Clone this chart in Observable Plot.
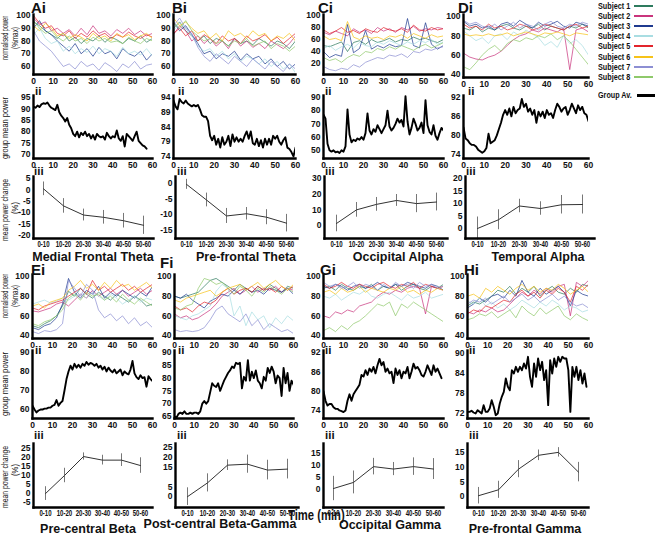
<!DOCTYPE html>
<html><head><meta charset="utf-8">
<script src="https://cdn.jsdelivr.net/npm/d3@7"></script>
<script src="https://cdn.jsdelivr.net/npm/@observablehq/plot@0.6"></script>
<style>
body{margin:0;background:#fff;}
#fig{position:relative;width:656px;height:535px;overflow:hidden;font-family:"Liberation Sans",Arial,Helvetica,sans-serif;color:#111;}
.t{position:absolute;white-space:nowrap;line-height:1;}
</style></head><body><div id="fig"></div>
<script>
// ---------------- data ----------------
const subjects = ["Subject 1","Subject 2","Subject 3","Subject 4","Subject 5","Subject 6","Subject 7","Subject 8"];
const subjectColors = ["#2e7b5e","#c9357d","#1f3a8f","#a9dde2","#e2252d","#f6c319","#8d8fd3","#8fc96b"];
const timeTicks = [0,10,20,30,40,50,60];
const bins = ["0-10","10-20","20-30","30-40","40-50","50-60"];
const subjStep = 3;   // minutes between samples of single-subject traces
const meanStep = 1;   // minutes between samples of group mean traces
const regions = ["Medial Frontal Theta","Pre-frontal Theta","Occipital Alpha","Temporal Alpha",
                 "Pre-central Beta","Post-central Beta-Gamma","Occipital Gamma","Pre-frontal Gamma"];

// single-subject normalised power (%max), one row per subject
const subjA = [
 [95,92,88,85,82,86,80,83,78,82,80,84,79,83,81,78,82,80,84,79,82],
 [98,93,95,88,90,86,89,84,90,85,92,86,88,84,89,86,90,85,88,84,86],
 [90,96,88,85,80,76,72,78,70,74,68,75,70,72,66,74,70,68,72,65,70],
 [85,90,82,78,80,72,76,70,74,71,76,70,74,72,68,75,70,72,69,74,68],
 [100,94,90,92,86,84,88,82,86,83,88,84,86,82,85,83,87,84,82,85,83],
 [92,88,94,90,84,86,82,85,83,80,86,82,84,80,86,83,85,81,84,86,82],
 [88,80,76,72,66,60,62,58,64,60,62,57,63,60,56,62,59,64,58,61,62],
 [96,90,86,88,83,80,84,80,82,78,83,80,82,79,80,78,83,80,78,82,80]];
const subjB = [
 [90,95,88,84,80,84,78,82,80,76,82,78,80,77,82,79,76,80,78,74,80],
 [85,92,88,80,84,78,82,76,80,74,82,76,80,75,78,74,80,77,74,78,84],
 [95,88,92,85,78,70,72,66,70,68,72,65,70,66,68,62,66,60,64,58,62],
 [88,94,90,84,76,72,74,68,72,66,70,64,68,66,62,66,60,64,58,62,55],
 [86,90,84,88,80,85,82,78,84,80,82,78,84,80,82,85,80,83,78,82,86],
 [98,92,95,90,86,88,82,86,80,88,84,86,82,88,84,86,80,84,82,86,80],
 [92,98,90,86,75,68,64,70,66,62,68,64,60,66,62,58,64,60,56,62,58],
 [94,90,96,88,84,80,82,78,80,76,80,78,82,76,78,80,74,78,76,72,76]];
const subjC = [
 [50,48,52,56,40,55,58,52,60,55,58,62,56,60,58,64,60,62,58,55,60],
 [72,68,74,70,66,78,72,76,70,80,74,78,72,80,76,82,74,78,76,80,78],
 [40,30,35,32,85,38,45,75,44,50,46,52,48,50,95,50,46,88,52,44,50],
 [45,50,42,48,52,46,55,50,48,56,52,58,54,50,56,52,58,55,60,52,56],
 [76,70,74,80,72,75,70,78,74,72,80,76,74,78,72,84,76,74,80,76,78],
 [66,60,62,58,90,64,60,66,62,64,60,66,64,68,62,70,66,62,68,64,66],
 [15,10,8,12,10,18,14,22,26,30,28,34,32,36,30,40,38,44,42,46,48],
 [30,25,28,22,30,35,32,40,38,45,42,48,44,50,46,42,48,52,46,50,55]];
const subjD = [
 [88,86,90,84,88,86,90,92,88,86,90,88,92,86,90,88,86,90,88,92,88],
 [62,58,56,55,58,60,64,70,76,80,82,86,84,88,86,84,88,45,86,88,84],
 [95,90,92,88,90,86,92,94,90,96,92,88,94,90,92,95,90,88,94,92,90],
 [85,80,75,78,72,80,82,76,84,80,86,82,78,70,74,68,80,72,76,70,60],
 [92,88,90,86,92,88,90,86,88,92,90,86,88,92,90,88,86,90,92,88,90],
 [82,80,81,80,82,80,81,83,80,82,84,82,80,83,82,84,82,80,83,82,81],
 [96,92,94,90,88,92,86,90,94,88,92,90,86,92,95,90,88,92,90,94,92],
 [48,45,52,60,66,70,64,72,76,74,78,76,80,78,82,76,80,74,66,58,50]];
const subjE = [
 [50,48,52,55,60,70,85,80,88,82,78,84,80,76,82,78,74,80,76,70,72],
 [65,64,66,68,72,74,70,76,82,78,86,80,84,88,82,86,80,84,88,82,86],
 [48,46,50,52,58,72,98,84,78,86,82,90,78,84,80,86,82,78,84,80,90],
 [72,74,76,73,75,78,76,80,82,78,84,80,76,82,78,72,76,80,74,78,76],
 [68,66,70,72,74,76,80,84,88,82,96,86,90,84,88,92,86,90,84,88,92],
 [70,72,68,74,76,78,86,90,96,88,92,86,94,88,96,90,92,86,90,94,88],
 [44,42,45,44,46,52,96,88,80,92,86,66,58,62,55,60,52,58,50,54,48],
 [52,50,54,56,60,66,78,82,76,84,80,82,76,80,74,82,76,72,78,74,70]];
const subjF = [
 [80,78,80,82,84,90,96,98,94,90,86,92,88,84,90,86,92,88,84,90,88],
 [62,58,60,56,58,62,66,72,80,84,88,82,86,90,84,88,86,90,84,88,86],
 [80,78,82,76,72,68,75,78,82,80,86,82,88,84,86,82,88,86,84,88,82],
 [60,58,56,60,62,66,70,85,92,88,60,70,50,64,56,60,48,58,52,60,55],
 [70,66,68,64,70,74,72,76,84,88,82,86,88,84,90,86,88,84,90,86,90],
 [76,74,78,80,82,84,86,80,84,88,90,92,86,90,94,88,92,96,90,86,92],
 [46,44,45,44,45,48,56,66,70,62,58,54,62,50,56,46,52,48,44,46,42],
 [68,66,70,72,88,98,96,92,94,88,82,90,86,80,88,84,90,86,82,88,84]];
const subjG = [
 [88,90,86,92,88,86,90,88,92,86,90,88,92,86,90,92,88,86,90,88,92],
 [60,58,64,62,66,64,70,72,74,80,84,82,86,84,88,90,88,62,90,88,86],
 [90,88,92,90,86,90,92,88,90,94,90,88,92,90,94,92,90,88,92,90,86],
 [80,78,82,76,80,84,82,86,80,78,82,84,80,76,82,78,80,84,78,80,82],
 [92,88,90,94,90,88,92,90,88,92,94,90,88,92,90,94,88,92,90,88,90],
 [84,86,82,88,84,86,90,84,88,86,84,88,86,90,84,86,82,86,84,88,86],
 [94,90,92,88,90,94,88,92,90,86,92,88,94,90,92,88,94,90,92,88,90],
 [45,48,44,50,46,52,55,60,66,72,70,74,60,72,68,74,70,66,62,58,54]];
const subjH = [
 [70,74,72,76,80,86,84,90,82,88,84,90,80,86,90,84,82,88,84,92,90],
 [64,62,66,64,68,64,66,72,78,84,80,86,82,88,84,90,92,60,94,90,96],
 [68,72,78,74,80,82,78,86,80,96,84,80,88,82,86,90,84,70,86,82,80],
 [75,72,78,70,74,68,72,66,70,76,72,68,74,70,76,72,66,70,68,64,66],
 [62,66,64,70,68,72,76,74,82,86,80,84,78,86,82,88,84,74,90,86,92],
 [80,82,78,88,84,90,86,82,88,92,86,90,84,88,86,92,88,82,86,90,84],
 [72,76,74,78,72,76,80,74,78,82,76,80,74,78,82,76,80,74,70,72,68],
 [56,58,62,60,64,58,62,66,58,70,64,60,68,62,66,70,60,56,62,58,55]];

// group mean power, one value per minute
const meanA = [91,90.5,91.5,90.8,92,92.5,92.2,92.8,91.5,90.5,90,89.5,91.8,88.5,87,86,84.5,86,83,81.5,79,78,80,77.5,79.5,78.5,80,78,79,77,78.5,76.5,79,78,77.5,78,76.5,79.5,78,77,78,77.5,80.5,77,76,78,73.5,79,78,77,76,78,80,76,75,74,73.5,72.5];
const meanB = [93,91,90,93.5,92.5,92,93,92,91.5,91,91.5,91,91.5,90,88,87.5,87.5,86,81,79.5,81,78,80,77,80.5,78,79,81,77.5,81.5,79,80.5,79,80,79,81,82.5,80,82.5,78.5,78,80,77.5,79.5,77,80,78,80,78,81,80,81,79,78,79.5,80.5,77,76.5,75.5,74,77,78];
const meanC = [77,74,55,50,49,50,48.5,49,48,50,49,53,81,62,56,58,57,59,58,60,58,63,78,65,62,66,64,69,66,63,66,69,80,68,65,67,70,74,71,73,68,91,72,62,67,74,70,65,67,71,63,88,69,64,62,69,61,58,63,67,65];
const meanD = [82.5,79,78.5,77.5,77,77,76.5,75.5,75,74.5,75,76,80.5,77.5,78,78.5,80,82,84,86.5,88,86.5,88.5,86,89,87,88,88.5,91.5,89,90,87.5,88.5,86.5,88,84,87.5,86,87.5,85.5,88,86.5,87,85.5,88,90,89,87.5,88.5,89,86.5,88,90,88.5,87,89.5,88,89,87,86.5,84.5];
const meanE = [62,60,58.5,59.5,60,60,60.5,60.5,61,61,62,62.5,65,62,63.5,64.5,70,76,80,83,81,84,82,83.5,82,84,83,85,83.5,84.5,84,83,84,82,83,81,82.5,80,82,80.5,79.5,81,79,80,81,78,80,79,78.5,81,85.5,79,77,76,78,76.5,77,72,77.5,76,75];
const meanF = [65,64.5,66,66.5,66,67,66,66,66.5,66,66.5,66.5,66,67,70,71,70,71,74.5,78,77,76.5,78,75,77,79,80.5,82,83,84.5,84,86,85.5,86,76,80.5,79,87,79,82.5,80,83,79,78,76,80.5,79,84,82,84.5,82.5,78,81,80,73,84,78,82,75,79,77.5,75];
const meanG = [80,77,75.5,76,76,75,74.5,74.5,74,73.8,73.5,74,77,79,77,79,80,81,82,85,84.5,86.5,85,87,86,87.5,85.5,88,90,88,89,86,87,85.5,86,82.5,87,85,86.5,84,86,85.5,87.5,84,86,88.5,87,87.5,86.5,85,84.5,86,88,86.5,85,88,86,87,85.5,84];
const meanH = [72.5,72.5,72.8,72.3,72,73,72.5,72,74.5,72.5,72.5,73.5,76,74,71.5,72,75,77,78.5,82.5,80,79,85,84,86,84.5,86,85,87,85.5,89,83,80,87,83,88.5,85,87.5,82,85,74.5,88,84,88.5,86,89,87.5,89,88.5,88.5,85,72.5,86,83,86,82,85,81,84,80];

// mean power change (%) per 10-min bin, and error bar half-widths
const changeA = [0.5,-7,-11,-12,-13.5,-15.5],  errA = [3,3.2,2.6,3,3.2,4];
const changeB = [-0.3,-5.3,-10.4,-9.7,-10.8,-12.7], errB = [1.6,2.2,2.4,2,2.4,2.8];
const changeC = [1.3,10,13.5,16,14,15],   errC = [5.3,4.7,4.4,3.8,5.8,5.7];
const changeD = [0,3.5,9,8,9.5,9.6],      errD = [4.6,4,2.7,2.7,3.7,3.8];
const changeE = [0,10,20.5,18.5,18.5,15.5], errE = [3.8,4,2,2.7,3.5,4.3];
const changeF = [0,7,16,16.5,13.5,14],    errF = [4.5,4.6,2.7,4.6,5,5];
const changeG = [0.5,3,9.5,8.5,9.5,8.5],  errG = [5,4.7,3.4,2.7,3.6,4.3];
const changeH = [0.3,2.3,9.3,14,15,8.3],  errH = [2.8,2.9,2.9,1.8,1.6,3.3];

// tick labels
const ticksI = {A:[100,90,80,70,60],B:[100,90,80,70,60],C:[100,80,60,40,20],D:[100,80,60,40],
                E:[100,80,60,40],F:[100,80,60,40],G:[100,80,60,40],H:[100,80,60,40]};
const ticksII = {A:[95,90,85,80,75,70],B:[94,89,84,79,74],C:[90,80,70,60,50],D:[92,86,80,74],
                 E:[90,80,70,60],F:[90,85,80,75,70,65],G:[92,86,80,74],H:[90,84,78,72]};
const ticksIII = {A:[5,0,-5,-10,-15,-20],B:[0,-5,-10,-15],C:[30,20,10,0],D:[20,15,10,5,0],
                  E:[25,20,15,10,5,0,-5],F:[25,20,15,5,0],G:[15,10,5,0],H:[15,10,5,0]};

// ---------------- layout ----------------
const fig = document.getElementById("fig");
const FONT = '"Liberation Sans", Arial, Helvetica, sans-serif';
const ML = 28, MR = 8, MT = 4, MB = 16;
const layout = {
  A:{i:[33,152,14,74],   ii:[33,152,95,158],  iii:[33,153,176,238], yI:[53.7,100.8], yII:[68.2,95.9], yIII:[-21.3,5.9]},
  B:{i:[173,295,14,74],  ii:[173,295,95,158], iii:[175,297,176,238],yI:[53.7,100.8], yII:[73.3,94.7], yIII:[-17.6,2.2]},
  C:{i:[323,443,14,74],  ii:[323,443,95,158], iii:[324,447,176,238],yI:[1.7,101.7],  yII:[43.8,91.5], yIII:[-8.3,31.3]},
  D:{i:[463,588,14,77],  ii:[463,588,95,158], iii:[465,594,176,238],yI:[36.9,102],   yII:[72.7,92.6], yIII:[-4,20.8]},
  E:{i:[32,152,274,338], ii:[32,152,350,418], iii:[33,152,443,507], yI:[37,102], yII:[55.3,91],  yIII:[-7.7,27.7]},
  F:{i:[174,293,274,338],ii:[174,293,350,418],iii:[175,298,443,507],yI:[37,102], yII:[64.2,90.8],yIII:[-5.5,27]},
  G:{i:[323,443,274,338],ii:[323,443,350,418],iii:[323,443,443,507],yI:[37,102], yII:[71.5,92.6],yIII:[-7.3,19]},
  H:{i:[467,588,274,338],ii:[467,588,350,418],iii:[467,588,443,507],yI:[37,102], yII:[70.5,90.9],yIII:[-3.7,18]}
};
const subjData = {A:subjA,B:subjB,C:subjC,D:subjD,E:subjE,F:subjF,G:subjG,H:subjH};
const meanData = {A:meanA,B:meanB,C:meanC,D:meanD,E:meanE,F:meanF,G:meanG,H:meanH};
const changeData = {A:[changeA,errA],B:[changeB,errB],C:[changeC,errC],D:[changeD,errD],
                    E:[changeE,errE],F:[changeF,errF],G:[changeG,errG],H:[changeH,errH]};

function axisLines(){ return [Plot.frame({anchor:"left", stroke:"#000", strokeWidth:2.4}),
                              Plot.frame({anchor:"bottom", stroke:"#000", strokeWidth:2.4})]; }
function yAxis(ticks){ return Plot.axisY({ticks, tickSize:0, tickPadding:3, label:null, tickFormat:d=>String(d), fontSize:8.5}); }

function makePlot(box, x, y, marks){
  const w = box[1]-box[0]+ML+MR, h = box[3]-box[2]+MT+MB;
  const svg = Plot.plot({width:w, height:h, marginLeft:ML, marginRight:MR, marginTop:MT, marginBottom:MB,
    style:{fontFamily:FONT, fontSize:"8.5px", fontWeight:"bold", background:"transparent", overflow:"visible", color:"#111"},
    x, y, color:{type:"identity"}, marks});
  svg.style.position = "absolute";
  svg.style.left = (box[0]-ML)+"px";
  svg.style.top = (box[2]-MT)+"px";
  fig.appendChild(svg);
  return svg;
}

for (const k of Object.keys(layout)){
  const L = layout[k];
  // i: single subjects
  const rows = subjData[k].flatMap((vals,s)=>vals.map((v,j)=>({t:j*subjStep, v, s})));
  makePlot(L.i, {domain:[0,60]}, {domain:L.yI}, [
    Plot.line(rows, {x:"t", y:"v", z:"s", stroke:d=>subjectColors[d.s], strokeWidth:0.8, strokeOpacity:0.9, clip:true}),
    Plot.axisX({ticks:timeTicks, tickSize:0, tickPadding:3, label:null, fontSize:8.5}),
    yAxis(ticksI[k]), ...axisLines()]);
  // ii: group mean
  const mrows = meanData[k].map((v,j)=>({t:j*meanStep, v}));
  makePlot(L.ii, {domain:[0,60]}, {domain:L.yII}, [
    Plot.line(mrows, {x:"t", y:"v", stroke:"#000", strokeWidth:1.9, clip:true}),
    Plot.axisX({ticks:timeTicks, tickSize:0, tickPadding:3, label:null, fontSize:8.5}),
    yAxis(ticksII[k]), ...axisLines()]);
  // iii: mean change per bin
  const [m, e] = changeData[k];
  const crows = bins.map((b,j)=>({b, m:m[j], lo:m[j]-e[j], hi:m[j]+e[j]}));
  const svg = makePlot(L.iii, {type:"point", domain:bins, padding:0.5}, {domain:L.yIII}, [
    Plot.ruleX(crows, {x:"b", y1:"lo", y2:"hi", stroke:"#777", strokeWidth:1}),
    Plot.line(crows, {x:"b", y:"m", stroke:"#333", strokeWidth:1}),
    Plot.axisX({tickSize:0, tickPadding:3, label:null, fontSize:8.2}),
    yAxis(ticksIII[k]), ...axisLines()]);
  // bin labels use a narrow face in the reference: squeeze them horizontally
  svg.querySelectorAll("text").forEach(t=>{
    if (/^\d+-\d+$/.test(t.textContent)) {
      const tr = t.getAttribute("transform") || "";
      t.setAttribute("transform", tr + " scale(0.74,1)");
    }
  });
}

// ---------------- text ----------------
function txt(s, left, top, size, weight, extra){
  const d = document.createElement("div");
  d.className = "t"; d.textContent = s;
  d.style.left = left+"px"; d.style.top = top+"px";
  d.style.fontSize = size+"px"; d.style.fontWeight = weight;
  if (extra) Object.assign(d.style, extra);
  fig.appendChild(d); return d;
}
function ctxt(s, cx, cy, size, weight){ return txt(s, cx, cy, size, weight, {transform:"translate(-50%,-50%)"}); }
// rotated text squeezed to a given length
function rtxt(s, cx, cy, size, len){
  const d = txt(s, cx, cy, size, "normal");
  const k = Math.min(1, len / d.offsetWidth);
  d.style.transform = `translate(-50%,-50%) rotate(-90deg) scaleX(${k})`;
  return d;
}
// horizontal text squeezed to a width, left anchored
function ftxt(s, left, top, size, weight, len){
  const d = txt(s, left, top, size, weight);
  const k = Math.min(1, len / d.offsetWidth);
  d.style.transformOrigin = "0 50%";
  d.style.transform = `scaleX(${k})`;
  return d;
}

const letters = [["Ai",31,0],["Bi",172,0],["Ci",318,0],["Di",458,0],["Ei",31,262],["Fi",160,255],["Gi",320,262],["Hi",464,262]];
letters.forEach(([s,x,y])=>txt(s,x,y,15,"bold"));
[[35,86],[178,86],[325,86],[468,86],[35,345],[178,345],[325,345],[469,345]].forEach(([x,y])=>txt("ii",x,y,11.5,"bold"));
[[34,166],[177,166],[325,166],[466,166],[34,430],[177,430],[325,430],[469,430]].forEach(([x,y])=>txt("iii",x,y,11.5,"bold"));

const titlePos = [[93,256.5],[246,256.5],[398,256.5],[538,256.5],[88,529],[220,524],[390,525],[525,529]];
regions.forEach((r,i)=>ctxt(r, titlePos[i][0], titlePos[i][1], 12.5, "bold"));
ftxt("Time (min)", 288, 508, 14, "bold", 57);

[38, 296].forEach(cy=>{ rtxt("normalised power",5,cy,9.5,44); rtxt("(%max)",14.5,cy,9.5,22); });
rtxt("group mean power",5,128,9.5,62); rtxt("group mean power",5,384,9.5,64);
rtxt("mean power change",5,210,9.5,62); rtxt("(%)",14.5,208,9.5,12);
rtxt("mean power change",5,477,9.5,62); rtxt("(%)",14.5,470,9.5,12);

// legend
subjects.forEach((s,i)=>{
  const cy = 6 + i*10.1;
  ftxt(s, 598, cy-5, 9.5, "bold", 32);
  const ln = document.createElement("div");
  Object.assign(ln.style, {position:"absolute", left:"634px", top:(cy-1)+"px", width:"19px", height:"2px", background:subjectColors[i]});
  fig.appendChild(ln);
});
ftxt("Group Av.", 598, 90, 9.5, "bold", 34);
const gl = document.createElement("div");
Object.assign(gl.style, {position:"absolute", left:"637px", top:"94px", width:"18px", height:"2.5px", background:"#000"});
fig.appendChild(gl);
</script></body></html>
